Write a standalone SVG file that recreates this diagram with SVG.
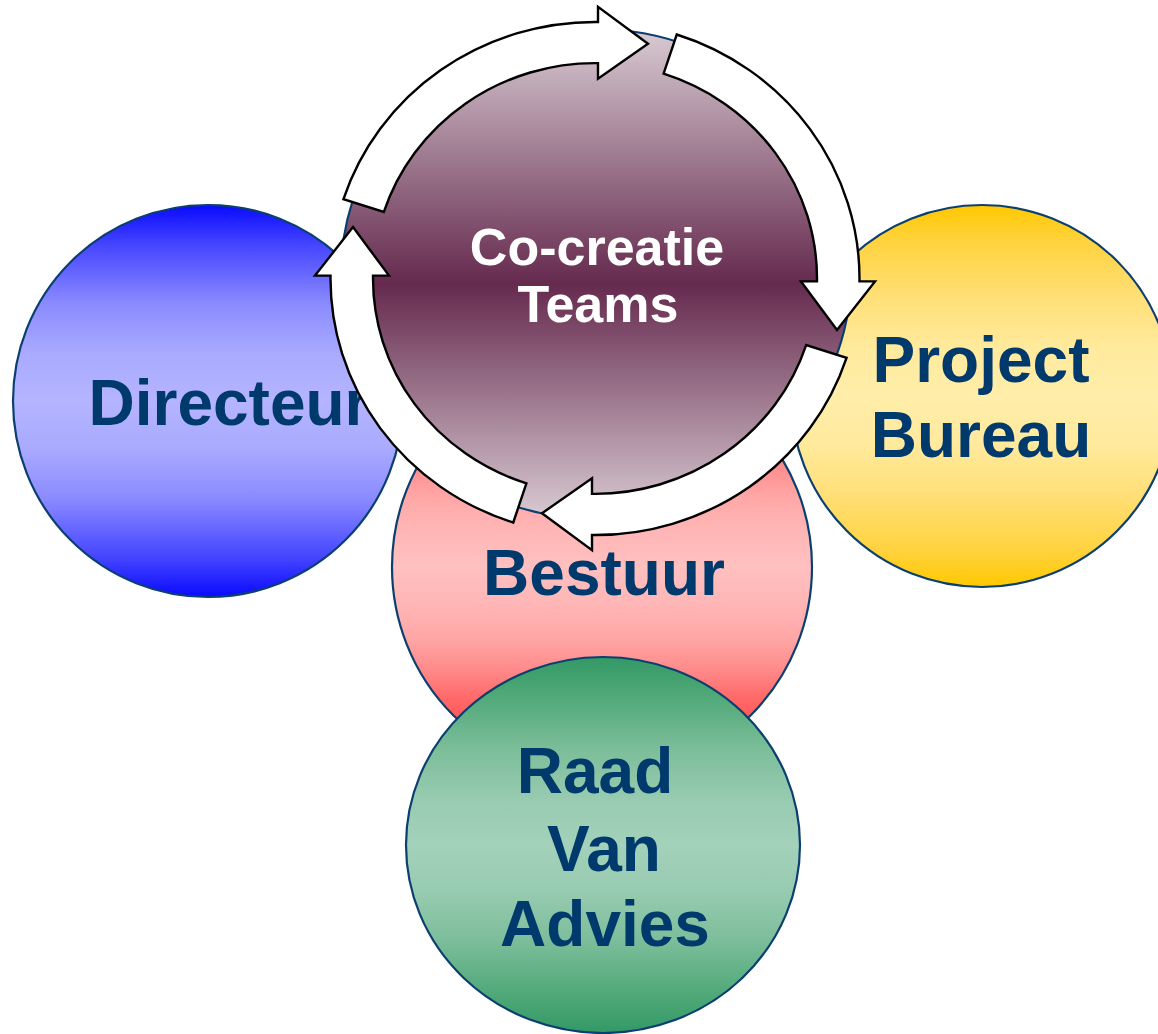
<svg xmlns="http://www.w3.org/2000/svg" xmlns:xlink="http://www.w3.org/1999/xlink" width="1158" height="1034" viewBox="0 0 1158 1034">
<style>
.node{stroke:#0B3F70;stroke-width:2.2}
.lbl{font-family:"Liberation Sans",Arial,Helvetica,sans-serif;font-weight:bold;font-size:64px;fill:#003A6C;text-anchor:middle}
.lblw{font-family:"Liberation Sans",Arial,Helvetica,sans-serif;font-weight:bold;font-size:52px;fill:#FFFFFF;text-anchor:middle}
.arrow{fill:#FFFFFF;stroke:#000000;stroke-width:2.4;stroke-linejoin:miter;vector-effect:non-scaling-stroke}
</style>
<defs>
<linearGradient id="gBlue" x1="0" y1="0" x2="0" y2="1">
<stop offset="0" stop-color="#0A0AFF"/><stop offset="0.1" stop-color="#4444FF"/><stop offset="0.25" stop-color="#8A8AFF"/><stop offset="0.38" stop-color="#AAAAFF"/><stop offset="0.5" stop-color="#B4B4FF"/><stop offset="0.62" stop-color="#AAAAFF"/><stop offset="0.75" stop-color="#8A8AFF"/><stop offset="0.9" stop-color="#4444FF"/><stop offset="1" stop-color="#0A0AFF"/>
</linearGradient>
<linearGradient id="gGold" x1="0" y1="0" x2="0" y2="1">
<stop offset="0" stop-color="#FFC800"/><stop offset="0.1" stop-color="#FFD340"/><stop offset="0.25" stop-color="#FFE07A"/><stop offset="0.38" stop-color="#FFEA9E"/><stop offset="0.5" stop-color="#FFEEAA"/><stop offset="0.62" stop-color="#FFEA9E"/><stop offset="0.75" stop-color="#FFE07A"/><stop offset="0.9" stop-color="#FFD340"/><stop offset="1" stop-color="#FFC800"/>
</linearGradient>
<linearGradient id="gPink" x1="0" y1="0" x2="0" y2="1">
<stop offset="0" stop-color="#FF5050"/><stop offset="0.13" stop-color="#FF5555"/><stop offset="0.19" stop-color="#FF6A6A"/><stop offset="0.26" stop-color="#FF8C8C"/><stop offset="0.33" stop-color="#FFA6A6"/><stop offset="0.4" stop-color="#FFB4B4"/><stop offset="0.5" stop-color="#FFC0C0"/><stop offset="0.6" stop-color="#FFB4B4"/><stop offset="0.67" stop-color="#FFA6A6"/><stop offset="0.74" stop-color="#FF8C8C"/><stop offset="0.81" stop-color="#FF6A6A"/><stop offset="0.87" stop-color="#FF5555"/><stop offset="1" stop-color="#FF5050"/>
</linearGradient>
<linearGradient id="gGreen" x1="0" y1="0" x2="0" y2="1">
<stop offset="0" stop-color="#339966"/><stop offset="0.1" stop-color="#4FA878"/><stop offset="0.25" stop-color="#7DBE9B"/><stop offset="0.38" stop-color="#98CBB1"/><stop offset="0.5" stop-color="#A3D1BA"/><stop offset="0.62" stop-color="#98CBB1"/><stop offset="0.75" stop-color="#7DBE9B"/><stop offset="0.9" stop-color="#4FA878"/><stop offset="1" stop-color="#339966"/>
</linearGradient>
<linearGradient id="gMaroon" x1="0" y1="0" x2="0" y2="1">
<stop offset="0" stop-color="#D9CBD3"/><stop offset="0.52" stop-color="#652A4E"/><stop offset="1" stop-color="#D9CBD3"/>
</linearGradient>
<path id="arr" class="arrow" d="M -251.55 -81.73 A 264.5 264.5 0 0 1 3 -264.48 L 3 -280 L 53 -242 L 3 -206 L 3 -221.98 A 222 222 0 0 0 -211.14 -68.60 Z"/>
</defs>
<rect width="1158" height="1034" fill="#FFFFFF"/>
<g id="directeur">
<ellipse class="node" cx="208" cy="401" rx="195" ry="196" fill="url(#gBlue)"/>
<text class="lbl" x="229" y="425">Directeur</text>
</g>
<g id="project-bureau">
<ellipse class="node" cx="982" cy="396" rx="191" ry="191" fill="url(#gGold)"/>
<text class="lbl" x="981" y="382">Project</text>
<text class="lbl" x="981" y="457">Bureau</text>
</g>
<g id="bestuur">
<ellipse class="node" cx="602" cy="567" rx="210" ry="210" fill="url(#gPink)"/>
<text class="lbl" x="604" y="595">Bestuur</text>
</g>
<g id="raad-van-advies">
<ellipse class="node" cx="603" cy="845" rx="197" ry="188" fill="url(#gGreen)"/>
<text class="lbl" x="595" y="793">Raad</text>
<text class="lbl" x="604" y="871">Van</text>
<text class="lbl" x="605" y="946">Advies</text>
</g>
<g id="co-creatie-teams">
<ellipse class="node" cx="596" cy="274" rx="255" ry="245" fill="url(#gMaroon)"/>
</g>
<g id="connectors" transform="translate(595 278.5) scale(1 0.97)">
<use xlink:href="#arr" href="#arr"/>
<use xlink:href="#arr" href="#arr" transform="rotate(90)"/>
<use xlink:href="#arr" href="#arr" transform="rotate(180)"/>
<use xlink:href="#arr" href="#arr" transform="rotate(270)"/>
</g>
<g id="co-creatie-label">
<text class="lblw" x="597" y="265">Co-creatie</text>
<text class="lblw" x="598" y="322">Teams</text>
</g>
</svg>
